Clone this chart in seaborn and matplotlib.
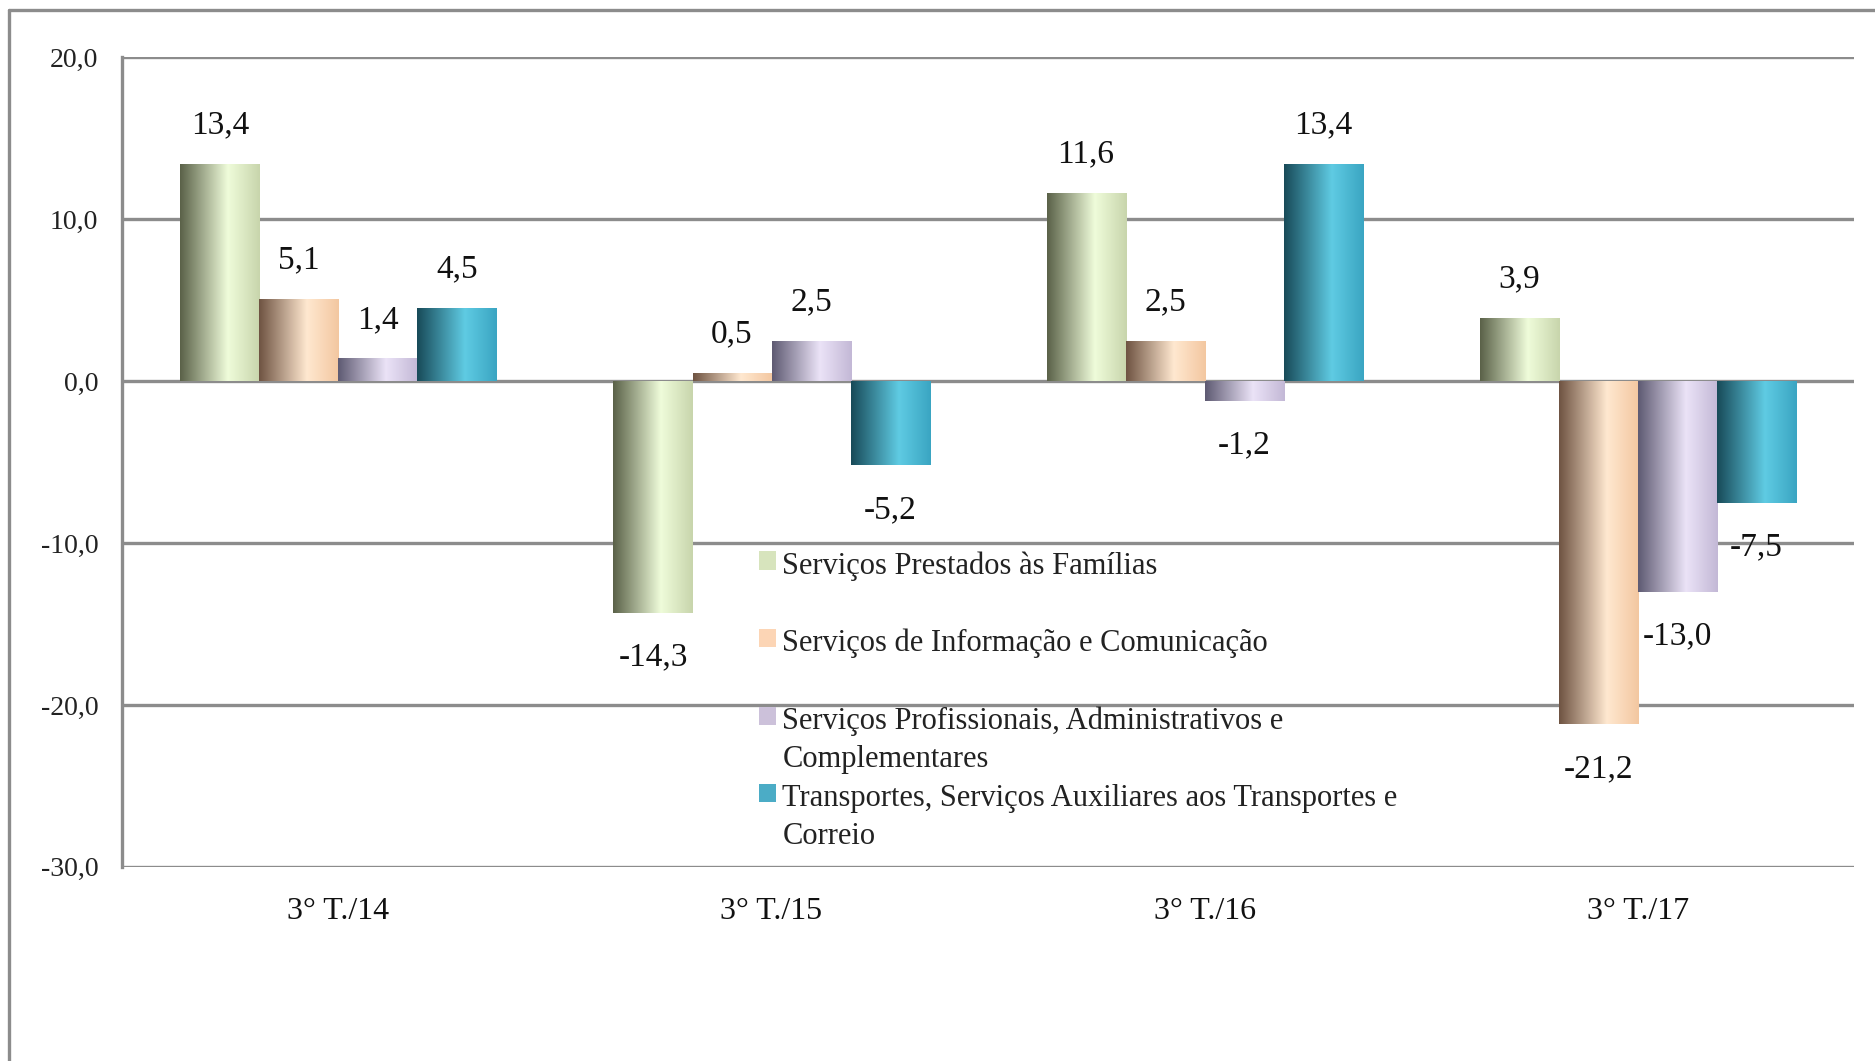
import numpy as np
import pandas as pd
import matplotlib
matplotlib.use("Agg")
import matplotlib.pyplot as plt
import seaborn as sns
from matplotlib.patches import Patch, Rectangle
from matplotlib.legend_handler import HandlerPatch
from matplotlib.colors import LinearSegmentedColormap
from matplotlib.lines import Line2D
from matplotlib.ticker import FuncFormatter

# data
periods = ["3° T./14", "3° T./15", "3° T./16", "3° T./17"]
series = [
    "Serviços Prestados às Famílias",
    "Serviços de Informação e Comunicação",
    "Serviços Profissionais, Administrativos e\nComplementares",
    "Transportes, Serviços Auxiliares aos Transportes e\nCorreio",
]
familias = [13.4, -14.3, 11.6, 3.9]
informacao = [5.1, 0.5, 2.5, -21.2]
profissionais = [1.4, 2.5, -1.2, -13.0]
transportes = [4.5, -5.2, 13.4, -7.5]

base_colors = ["#d7e4bd", "#fcd5b5", "#ccc1da", "#4bacc6"]
# (dark edge, highlight, right side) for the cylinder-like shading
shades = [
    ("#5a6148", "#effcda", "#c8d5ac"),
    ("#6e5342", "#ffe8d0", "#f3c7a0"),
    ("#5e5a72", "#ebe3f7", "#c3b8d6"),
    ("#184a58", "#5fcbe3", "#3aa5c2"),
]

df = pd.DataFrame({
    "periodo": periods * 4,
    "serie": np.repeat(series, 4),
    "valor": familias + informacao + profissionais + transportes,
})

sns.set_style("white")
plt.rcParams["font.family"] = ["Liberation Serif", "DejaVu Serif"]

fig = plt.figure(figsize=(18.75, 10.61), dpi=100)
ax = fig.add_axes([0.065, 0.183, 0.924, 0.763])

sns.barplot(data=df, x="periodo", y="valor", hue="serie", hue_order=series,
            order=periods, palette=base_colors, width=0.73, legend=False,
            saturation=1, ax=ax, errorbar=None, edgecolor="none", linewidth=0)

ax.set_xlim(-0.5, 3.5)
ax.set_ylim(-30, 20)

# value labels (positive above, negative below, slightly different gaps)
fmt = lambda v: f"{v:.1f}".replace(".", ",")
for cont in ax.containers:
    vals = cont.datavalues
    ax.bar_label(cont, labels=[fmt(v) if v > 0 else "" for v in vals],
                 padding=17, fontsize=24, color="#111111")
    ax.bar_label(cont, labels=[fmt(v) if v < 0 else "" for v in vals],
                 padding=21, fontsize=24, color="#111111")

# gradient fill clipped to each bar
grad = np.linspace(0, 1, 256).reshape(1, -1)
for cont, sh in zip(ax.containers, shades):
    cmap = LinearSegmentedColormap.from_list("g", [(0, sh[0]), (0.6, sh[1]), (1, sh[2])])
    for p in cont:
        x0, y0 = p.get_x(), p.get_y()
        w, h = p.get_width(), p.get_height()
        im = ax.imshow(grad, cmap=cmap, aspect="auto", origin="lower",
                       extent=(x0, x0 + w, min(y0, y0 + h), max(y0, y0 + h)),
                       zorder=p.get_zorder() + 0.1, interpolation="bilinear")
        im.set_clip_path(p)

ax.set_xlim(-0.5, 3.5)
ax.set_ylim(-30, 20)
ax.set_yticks([-30, -20, -10, 0, 10, 20])
ax.yaxis.set_major_formatter(FuncFormatter(lambda v, _: fmt(v)))
ax.grid(axis="y", color="#8c8c8c", linewidth=2.4)
ax.set_axisbelow(True)
for s in ["top", "right", "bottom"]:
    ax.spines[s].set_visible(False)
ax.spines["left"].set_color("#8c8c8c")
ax.spines["left"].set_linewidth(2.4)
ax.tick_params(axis="y", length=3, color="#8c8c8c", pad=14, labelsize=20, labelcolor="#222222")
ax.tick_params(axis="x", length=0, pad=22, labelsize=23, labelcolor="#111111")
ax.set_xlabel("")
ax.set_ylabel("")


class TopHandler(HandlerPatch):
    def create_artists(self, legend, orig_handle, xdescent, ydescent, width, height, fontsize, trans):
        r = Rectangle((-xdescent, -ydescent + 0.8 * fontsize), width, height,
                      facecolor=orig_handle.get_facecolor(), edgecolor="none", transform=trans)
        return [r]


leg_labels = [s if "\n" in s else s + "\n " for s in series]
handles = [Patch(facecolor=c) for c in base_colors]
leg = ax.legend(handles, leg_labels, loc="upper left", bbox_to_anchor=(0.368, 0.39),
                frameon=False, fontsize=22, handlelength=0.55, handleheight=0.55,
                handletextpad=0.2, labelspacing=0.33, borderpad=0, borderaxespad=0,
                handler_map={Patch: TopHandler()})
for t in leg.get_texts():
    t.set_color("#222222")
    t.set_linespacing(1.41)

# outer chart border (only top and left are inside the picture)
fig.add_artist(Line2D([0.0048, 0.0048], [0, 0.991], color="#8c8c8c", linewidth=2.4,
                      transform=fig.transFigure))
fig.add_artist(Line2D([0.0048, 1], [0.991, 0.991], color="#8c8c8c", linewidth=2.4,
                      transform=fig.transFigure))

fig.savefig("out.png", dpi=100)
